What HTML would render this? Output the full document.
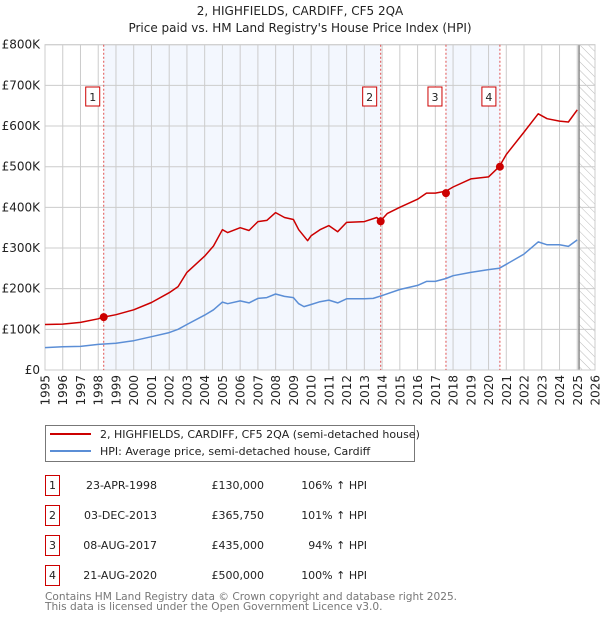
<!DOCTYPE html>
<html><head><meta charset="utf-8"><style>
body{margin:0;background:#fff;}
svg{display:block;font-family:"DejaVu Sans","Liberation Sans",sans-serif;}
</style></head><body>
<svg id="chart" width="600" height="620" viewBox="0 0 600 620">
<text x="300" y="15" text-anchor="middle" font-size="12" fill="#222">2, HIGHFIELDS, CARDIFF, CF5 2QA</text>
<text x="300" y="32" text-anchor="middle" font-size="12" fill="#222">Price paid vs. HM Land Registry's House Price Index (HPI)</text>
<defs><pattern id="hatch" width="6" height="6" patternUnits="userSpaceOnUse" patternTransform="rotate(-45)"><line x1="0" y1="0" x2="0" y2="6" stroke="#bbb" stroke-width="1"/></pattern></defs>
<g id="plot"></g>
<g>
<rect x="45.5" y="425.5" width="369" height="36" fill="#fff" stroke="#777"/>
<line x1="50" y1="434" x2="91" y2="434" stroke="#cc0000" stroke-width="2"/>
<text x="100" y="438" font-size="11" fill="#222">2, HIGHFIELDS, CARDIFF, CF5 2QA (semi-detached house)</text>
<line x1="50" y1="451" x2="91" y2="451" stroke="#5b8ed6" stroke-width="2"/>
<text x="100" y="455" font-size="11" fill="#222">HPI: Average price, semi-detached house, Cardiff</text>
</g>
<g id="table" font-size="11" fill="#222"></g>
<text x="45" y="600" font-size="10.6" fill="#777">Contains HM Land Registry data © Crown copyright and database right 2025.</text>
<text x="45" y="610" font-size="10.6" fill="#777">This data is licensed under the Open Government Licence v3.0.</text>
</svg>
<script>
const hpiYears=[1995,1996,1997,1998,1999,2000,2001,2002,2002.5,2003,2004,2004.5,2005,2005.3,2006,2006.5,2007,2007.5,2008,2008.5,2009,2009.3,2009.6,2010,2010.5,2011,2011.5,2012,2013,2013.5,2014,2015,2016,2016.5,2017,2017.6,2018,2019,2020,2020.6,2021,2022,2022.8,2023.3,2024,2024.5,2025];
const hpiValues=[55,57,58,63,66,72,82,92,100,112,135,148,167,163,170,165,176,178,187,181,178,163,156,161,168,172,165,175,175,176,183,198,208,218,218,225,232,240,247,250,260,285,315,308,308,304,320];
const redYears=[1995,1996,1997,1998,1998.3,1999,2000,2001,2002,2002.5,2003,2004,2004.5,2005,2005.3,2006,2006.5,2007,2007.5,2008,2008.5,2009,2009.3,2009.8,2010,2010.5,2011,2011.5,2012,2013,2013.7,2013.9,2014.3,2015,2016,2016.5,2017,2017.6,2018,2019,2020,2020.6,2021,2022,2022.8,2023.3,2024,2024.5,2025];
const redValues=[112,113,117,126,130,136,148,166,190,205,240,280,305,345,338,350,343,365,368,387,375,370,345,318,330,345,355,340,363,365,375,366,385,400,420,435,435,440,450,470,475,500,530,585,630,618,612,610,640];
const saleLabels=["1","2","3","4"];
const saleDates=[1998.31,2013.92,2017.6,2020.64];
const salePrices=[130,365.75,435,500];
const saleDateText=["23-APR-1998","03-DEC-2013","08-AUG-2017","21-AUG-2020"];
const salePriceText=["£130,000","£365,750","£435,000","£500,000"];
const saleHpiText=["106% ↑ HPI","101% ↑ HPI","94% ↑ HPI","100% ↑ HPI"];
const yTicks=[0,100,200,300,400,500,600,700,800];
const yTickLabels=["£0","£100K","£200K","£300K","£400K","£500K","£600K","£700K","£800K"];
const xTicks=[1995,1996,1997,1998,1999,2000,2001,2002,2003,2004,2005,2006,2007,2008,2009,2010,2011,2012,2013,2014,2015,2016,2017,2018,2019,2020,2021,2022,2023,2024,2025,2026];
const dataEnd=2025.1;

const X0=45,X1=595,Y0=370,Y1=44.7;
const xs=v=>X0+(v-1995)/(2026-1995)*(X1-X0);
const ys=v=>Y0-v/800*(Y0-Y1);
const NS="http://www.w3.org/2000/svg";
const plot=document.getElementById('plot');
function mk(tag,attrs,parent){const e=document.createElementNS(NS,tag);for(const k in attrs)e.setAttribute(k,attrs[k]);(parent||plot).appendChild(e);return e;}

let bg=mk('rect',{x:X0,y:Y1,width:X1-X0,height:Y0-Y1,fill:'#fff'});


let sh1=mk('rect',{x:xs(saleDates[0]),y:Y1,width:xs(saleDates[1])-xs(saleDates[0]),height:Y0-Y1,fill:'#eef3fd',opacity:0.7});


let sh2=mk('rect',{x:xs(saleDates[2]),y:Y1,width:xs(saleDates[3])-xs(saleDates[2]),height:Y0-Y1,fill:'#eef3fd',opacity:0.7});


let ht=mk('rect',{x:xs(dataEnd),y:Y1,width:X1-xs(dataEnd),height:Y0-Y1,fill:'url(#hatch)'});



xTicks.forEach((t,i)=>{
 const g=mk('line',{x1:xs(t),x2:xs(t),y1:Y1,y2:Y0,stroke:'#ccc','stroke-width':1});
 
 
 const tx=mk('text',{x:0,y:0,'font-size':12,fill:'#222','text-anchor':'end',transform:`translate(${xs(t)+4.5},${Y0+5}) rotate(-90)`});
 tx.textContent=t;
 
 
});
yTicks.forEach((t,i)=>{
 const g=mk('line',{x1:X0,x2:X1,y1:ys(t),y2:ys(t),stroke:'#ccc','stroke-width':1});
 
 
 const tx=mk('text',{x:X0-5,y:ys(t)+4,'font-size':12,fill:'#222','text-anchor':'end'});
 tx.textContent=yTickLabels[i];
 
 
});
let el=mk('line',{x1:xs(dataEnd),x2:xs(dataEnd),y1:Y1,y2:Y0,stroke:'#888','stroke-width':1.5});


let fr=mk('rect',{x:X0,y:Y1,width:X1-X0,height:Y0-Y1,fill:'none',stroke:'#ccc'});



saleDates.forEach((d,i)=>{
 const l=mk('line',{x1:xs(d),x2:xs(d),y1:Y1,y2:Y0,stroke:'#e05050','stroke-width':1,'stroke-dasharray':'2,2'});
 
 
});

function line(xa,va,color,name){
 const p=mk('polyline',{points:xa.map((x,i)=>xs(x).toFixed(1)+','+ys(va[i]).toFixed(1)).join(' '),fill:'none',stroke:color,'stroke-width':1.5,'stroke-linejoin':'round'});
 
 
}
line(hpiYears,hpiValues,'#5b8ed6','hpi-line');
line(redYears,redValues,'#cc0000','property-price-line');

saleDates.forEach((d,i)=>{
 const c=mk('circle',{cx:xs(d),cy:ys(salePrices[i]),r:4,fill:'#cc0000'});
 
 
 const b=mk('rect',{x:xs(d)-18,y:87,width:14,height:19,fill:'#fff',stroke:'#cc0000'});
 
 
 const t=mk('text',{x:xs(d)-11,y:101,'font-size':11,fill:'#222','text-anchor':'middle'});
 t.textContent=saleLabels[i];
 
 
});

const tbl=document.getElementById('table');
saleLabels.forEach((s,i)=>{
 const y0=475+i*30;
 const b=mk('rect',{x:45.5,y:y0+0.5,width:14,height:20,fill:'#fff',stroke:'#cc0000'},tbl);
 
 
 const n=mk('text',{x:52.5,y:y0+14,'text-anchor':'middle'},tbl);n.textContent=s;
 
 
 const d=mk('text',{x:157,y:y0+14,'text-anchor':'end'},tbl);d.textContent=saleDateText[i];
 
 
 const p=mk('text',{x:264,y:y0+14,'text-anchor':'end'},tbl);p.textContent=salePriceText[i];
 
 
 const h=mk('text',{x:367,y:y0+14,'text-anchor':'end'},tbl);h.textContent=saleHpiText[i];
 
 
});
</script>
</body></html>
